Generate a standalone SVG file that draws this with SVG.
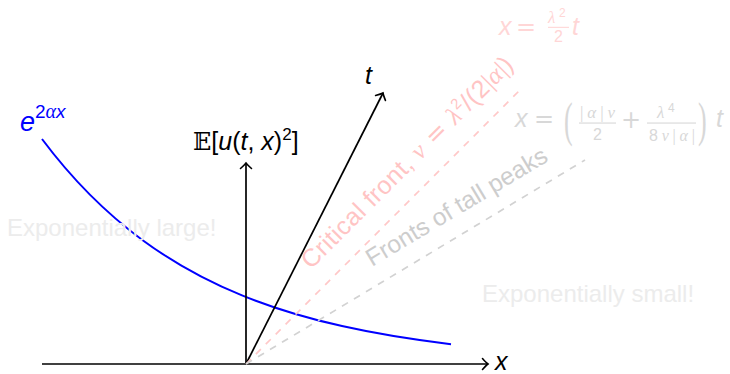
<svg xmlns="http://www.w3.org/2000/svg" width="730" height="374" viewBox="0 0 730 374">
<style>
.s{font-family:"Liberation Sans",Arial,sans-serif}
.i{font-style:italic}
.g{font-family:"Liberation Serif","Times New Roman",serif;font-style:italic}
.u{font-family:"Liberation Serif","Times New Roman",serif;font-style:normal}
.m{font-family:"DejaVu Sans",sans-serif;font-style:normal}
.bb{font-family:"DejaVu Serif","DejaVu Sans",serif;font-style:normal}
.ax{stroke:#000;stroke-width:1.7;fill:none}
.dash{stroke-width:1.7;fill:none;stroke-dasharray:7 7}
.lg{fill:#ececec}
.pk{fill:#ffc4c4}
.pk2{fill:#ffd6d6}
.gy{fill:#cdcdcd}
.gy2{fill:#d8d8d8}
</style>
<defs>
<marker id="arr" markerUnits="userSpaceOnUse" viewBox="-10 -8 12 16" markerWidth="12" markerHeight="16" refX="0" refY="0" orient="auto" overflow="visible">
<path d="M-5.5,-5.5 Q-1.8,-1.3 0,0 Q-1.8,1.3 -5.5,5.5" fill="none" stroke="#000" stroke-width="1.6" stroke-linecap="round"/>
</marker>
</defs>
<g id="curve">
<path d="M42,139 C75.33,183.52 108.67,215.11 142,239.7 C175.33,264.29 208.67,281.82 242,295.4 C275.33,308.98 308.67,318.6 342,326.1 C378.33,334.28 414.67,339.92 451,344.2" fill="none" stroke="#0000ff" stroke-width="2"/>
<text class="s i" x="20" y="131" font-size="27" fill="#0000ff">e<tspan class="s" font-style="normal" font-size="19" dy="-13">2</tspan><tspan class="g" font-size="20">α</tspan><tspan class="s i" font-size="19">x</tspan></text>
</g>
<g id="connectors">
<path class="ax" d="M42,364 H488" marker-end="url(#arr)"/>
<path class="ax" d="M246,364 V163" marker-end="url(#arr)"/>
<path class="ax" d="M246,364 L383,93" marker-end="url(#arr)"/>
<path class="dash" stroke="#ffc8c8" d="M246,364 L519,91"/>
<path class="dash" stroke="#d2d2d2" d="M246,364 L585,160"/>
</g>
<g id="x-label"><text class="s i" x="495" y="370" font-size="25">x</text></g>
<g id="t-label"><text class="s i" x="365" y="84" font-size="25">t</text></g>
<g id="y-label"><text class="s" x="193" y="150" font-size="25"><tspan class="bb" font-size="24">𝔼</tspan>[<tspan class="i">u</tspan>(<tspan class="i">t</tspan>, <tspan class="i">x</tspan>)<tspan font-size="17" dy="-10">2</tspan><tspan dy="10">]</tspan></text></g>
<g id="large"><text class="s lg" x="7" y="236" font-size="24">Exponentially large!</text></g>
<g id="small"><text class="s lg" x="482" y="302" font-size="24">Exponentially small!</text></g>
<g id="critical-label"><text class="s pk" transform="translate(311,270) rotate(-45)" font-size="25" textLength="288" lengthAdjust="spacing">Critical front, <tspan class="g">ν</tspan><tspan class="m"> = </tspan><tspan class="g">λ</tspan><tspan font-size="15" dy="-10">2</tspan><tspan dy="10">/(2</tspan><tspan class="u">|</tspan><tspan class="g">α</tspan><tspan class="u">|</tspan>)</text></g>
<g id="peaks-label"><text class="s gy" transform="translate(372,267) rotate(-31)" font-size="24.5">Fronts of tall peaks</text></g>
<g id="formula-critical" class="pk2">
<text class="s i" x="499" y="35" font-size="25">x</text>
<text class="m" x="516" y="35" font-size="24">=</text>
<text class="g" x="548" y="23" font-size="17">λ</text>
<text class="s" x="559" y="17" font-size="12">2</text>
<rect x="548" y="26.8" width="21" height="1.1" fill="#ffd6d6"/>
<text class="s" x="554" y="42" font-size="16">2</text>
<text class="s i" x="572" y="35" font-size="25">t</text>
</g>
<g id="formula-peaks" class="gy2">
<text class="s i" x="515" y="127" font-size="25">x</text>
<text class="m" x="534" y="127" font-size="24">=</text>
<text class="u" transform="translate(564,136) scale(1,1.9)" font-size="26">(</text>
<text x="580" y="118" font-size="17" textLength="35" lengthAdjust="spacing"><tspan class="u">|</tspan><tspan class="g">α</tspan><tspan class="u">|</tspan><tspan class="g">ν</tspan></text>
<rect x="579" y="122.5" width="37" height="1.1" fill="#d8d8d8"/>
<text class="s" x="593" y="140" font-size="16">2</text>
<text class="m" x="621" y="128" font-size="24">+</text>
<text class="g" x="657" y="118" font-size="17">λ</text>
<text class="s" x="668" y="112" font-size="12">4</text>
<rect x="647" y="122.5" width="49" height="1.1" fill="#d8d8d8"/>
<text x="649" y="141" font-size="16" textLength="46" lengthAdjust="spacing"><tspan class="s">8</tspan><tspan class="g">ν</tspan><tspan class="u">|</tspan><tspan class="g">α</tspan><tspan class="u">|</tspan></text>
<text class="u" transform="translate(698,136) scale(1,1.9)" font-size="26">)</text>
<text class="s i" x="716" y="127" font-size="25">t</text>
</g>
</svg>
